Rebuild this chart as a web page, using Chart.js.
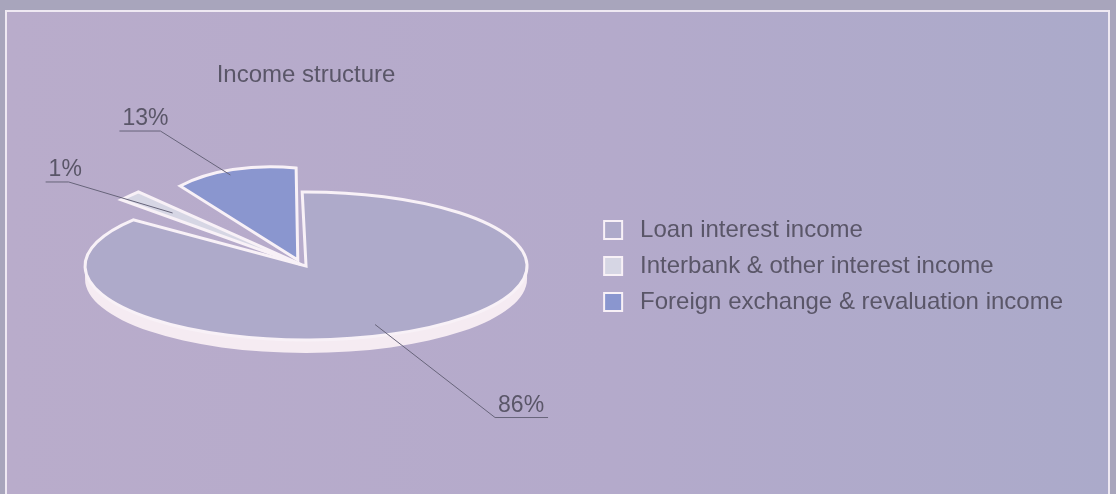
<!DOCTYPE html>
<html>
<head>
<meta charset="utf-8">
<title>Income structure</title>
<script src="https://cdn.jsdelivr.net/npm/chart.js@4.4.1/dist/chart.umd.min.js"></script>
<style>
  body { margin: 0; width: 1116px; height: 494px; overflow: hidden; background: #a8a5bc; }
  .panel {
    position: absolute; left: 5px; top: 10px; width: 1101px; height: 490px;
    border: 2px solid #efe9f3; border-bottom: none;
    background: linear-gradient(90deg, #b9accb 0%, #b4aacb 55%, #abaaca 100%);
  }
  #pie { position: absolute; left: 0; top: 0; }
</style>
</head>
<body>
<div class="panel"></div>
<canvas id="pie" width="1116" height="494"></canvas>
<script>
// data
const categories = ['Loan interest income', 'Interbank & other interest income', 'Foreign exchange & revaluation income'];
const shares = [86, 1, 13];

// look
const sliceColors = ['#aeaaca', '#d6d6e4', '#8a96cf'];
const explode = [0, 25, 80];
// pulled-out slices get their own skew (a, b, c, d) so they read like a perspective view
const sliceSkew = [[1, 0, 0, 1], [1.359, -0.38, -0.43, 1.845], [0.706, 0.22, -0.005, 1.208]];
const edgeColor = '#f8f1f7';
const sideColor = '#f5ebf2';
const textColor = '#5a5668';
const inkLine = '#67647a';
const FONT = '"Liberation Sans", Arial, sans-serif';
const TILT = 0.335;   // vertical squash of the pie
const DEPTH = 13;     // thickness of the rim in px

// callouts: where on the slice (angle fraction, radius fraction), leader vector, underline
const calloutAt = [[0.515, 0.85], [0.5, 0.75], [0.45, 0.95]];
const calloutLeg = [[120, 93], [-104, -31], [-70, -44]];
const underline = [53, -23, -41];

const ctx = document.getElementById('pie');

// same wedge geometry the arc element uses when it has an offset
function wedge(c, a) {
  const p = a.getProps(['x', 'y', 'startAngle', 'endAngle', 'outerRadius', 'circumference'], true);
  const off = (a.options.offset || 0) / 4;
  const mid = (p.startAngle + p.endAngle) / 2;
  const fix = 1 - Math.sin(Math.min(Math.PI, p.circumference || 0));
  const cx = p.x + Math.cos(mid) * off;
  const cy = p.y + Math.sin(mid) * off;
  const r = p.outerRadius + off * fix;
  if (c) {
    c.beginPath();
    c.moveTo(cx, cy);
    c.arc(cx, cy, r, p.startAngle, p.endAngle);
    c.closePath();
  }
  return {cx, cy, r, start: p.startAngle, end: p.endAngle};
}

function slant(c, a, i) {
  const w = wedge(null, a);
  const [m1, m2, m3, m4] = sliceSkew[i];
  c.translate(w.cx, w.cy);
  c.transform(m1, m2, m3, m4, 0, 0);
  c.translate(-w.cx, -w.cy);
}

const tiltPie = {
  id: 'tiltPie',
  beforeDatasetsDraw(chart) {
    const c = chart.ctx;
    const arcs = chart.getDatasetMeta(0).data;
    arcs.forEach((a, i) => {
      if (a._slanted) return;
      const own = a.draw;
      a.draw = function (g, area) {
        g.save();
        slant(g, this, i);
        own.call(this, g, area);
        g.restore();
      };
      a._slanted = true;
    });
    const ox = arcs[0].x, oy = arcs[0].y;
    c.save();
    c.translate(ox, oy);
    c.scale(1, TILT);
    c.translate(-ox, -oy);
    // rim: only the front half of a slice shows
    c.fillStyle = sideColor;
    arcs.forEach(a => {
      const w = wedge(null, a);
      [[0, Math.PI], [2 * Math.PI, 3 * Math.PI]].forEach(([f0, f1]) => {
        const a0 = Math.max(w.start, f0), a1 = Math.min(w.end, f1);
        if (a1 <= a0) return;
        c.beginPath();
        c.arc(w.cx, w.cy, w.r, a0, a1);
        c.arc(w.cx, w.cy + DEPTH / TILT, w.r, a1, a0, true);
        c.closePath();
        c.fill();
      });
    });
  },
  afterDatasetsDraw(chart) {
    const c = chart.ctx;
    const dpr = chart.currentDevicePixelRatio;
    chart.getDatasetMeta(0).data.forEach((a, i) => {
      c.save();
      slant(c, a, i);
      wedge(c, a);
      // stroke with an unsquashed pen so the edge stays even all round
      c.setTransform(dpr, 0, 0, dpr, 0, 0);
      c.lineWidth = 3;
      c.lineJoin = 'miter';
      c.strokeStyle = edgeColor;
      c.stroke();
      c.restore();
    });
    c.restore();
  }
};

const callouts = {
  id: 'callouts',
  afterDraw(chart) {
    const c = chart.ctx;
    const arcs = chart.getDatasetMeta(0).data;
    const ox = arcs[0].x, oy = arcs[0].y;
    c.save();
    // title over the pie
    c.fillStyle = textColor;
    c.font = '24px ' + FONT;
    c.textAlign = 'center';
    c.textBaseline = 'alphabetic';
    c.fillText('Income structure', ox, 82);

    c.font = '23px ' + FONT;
    c.textAlign = 'left';
    arcs.forEach((a, i) => {
      const w = wedge(null, a);
      const [m1, m2, m3, m4] = sliceSkew[i];
      const ang = w.start + (w.end - w.start) * calloutAt[i][0];
      const rr = w.r * calloutAt[i][1];
      const vx = Math.cos(ang) * rr, vy = Math.sin(ang) * rr;
      const ux = w.cx + m1 * vx + m3 * vy;
      const uy = w.cy + m2 * vx + m4 * vy;
      const x0 = ux, y0 = oy + (uy - oy) * TILT;
      const x1 = x0 + calloutLeg[i][0], y1 = y0 + calloutLeg[i][1];
      const x2 = x1 + underline[i];
      c.strokeStyle = inkLine;
      c.lineWidth = 1;
      c.beginPath();
      c.moveTo(x0, y0);
      c.lineTo(x1, y1);
      c.lineTo(x2, y1);
      c.stroke();
      c.fillText(shares[i] + '%', Math.min(x1, x2) + 3, y1 - 6);
    });
    c.restore();
  }
};

// legend swatch with a light frame, a little wider than the box
function swatch(color) {
  const s = document.createElement('canvas');
  s.width = 27; s.height = 24;
  const g = s.getContext('2d');
  g.fillStyle = color;
  g.fillRect(3, 3, 18, 18);
  g.strokeStyle = edgeColor;
  g.lineWidth = 2;
  g.strokeRect(3, 3, 18, 18);
  return s;
}

const chart = new Chart(ctx, {
  type: 'pie',
  data: {
    labels: categories,
    datasets: [{
      data: shares,
      backgroundColor: sliceColors,
      borderWidth: 0,
      offset: explode,
      clip: false
    }]
  },
  options: {
    responsive: false,
    animation: false,
    rotation: -1,
    radius: 221,
    layout: { padding: { left: 23, right: 43, top: 38, bottom: 0 } },
    plugins: {
      tooltip: { enabled: false },
      legend: {
        position: 'right',
        align: 'center',
        labels: {
          usePointStyle: true,
          pointStyleWidth: 27,
          boxHeight: 20,
          padding: 12,
          color: textColor,
          font: { family: FONT, size: 24 },
          generateLabels(ch) {
            const items = Chart.overrides.pie.plugins.legend.labels.generateLabels(ch);
            return items.map((it, i) => Object.assign(it, { pointStyle: swatch(sliceColors[i]) }));
          }
        }
      }
    }
  },
  plugins: [tiltPie, callouts]
});
</script>
</body>
</html>
